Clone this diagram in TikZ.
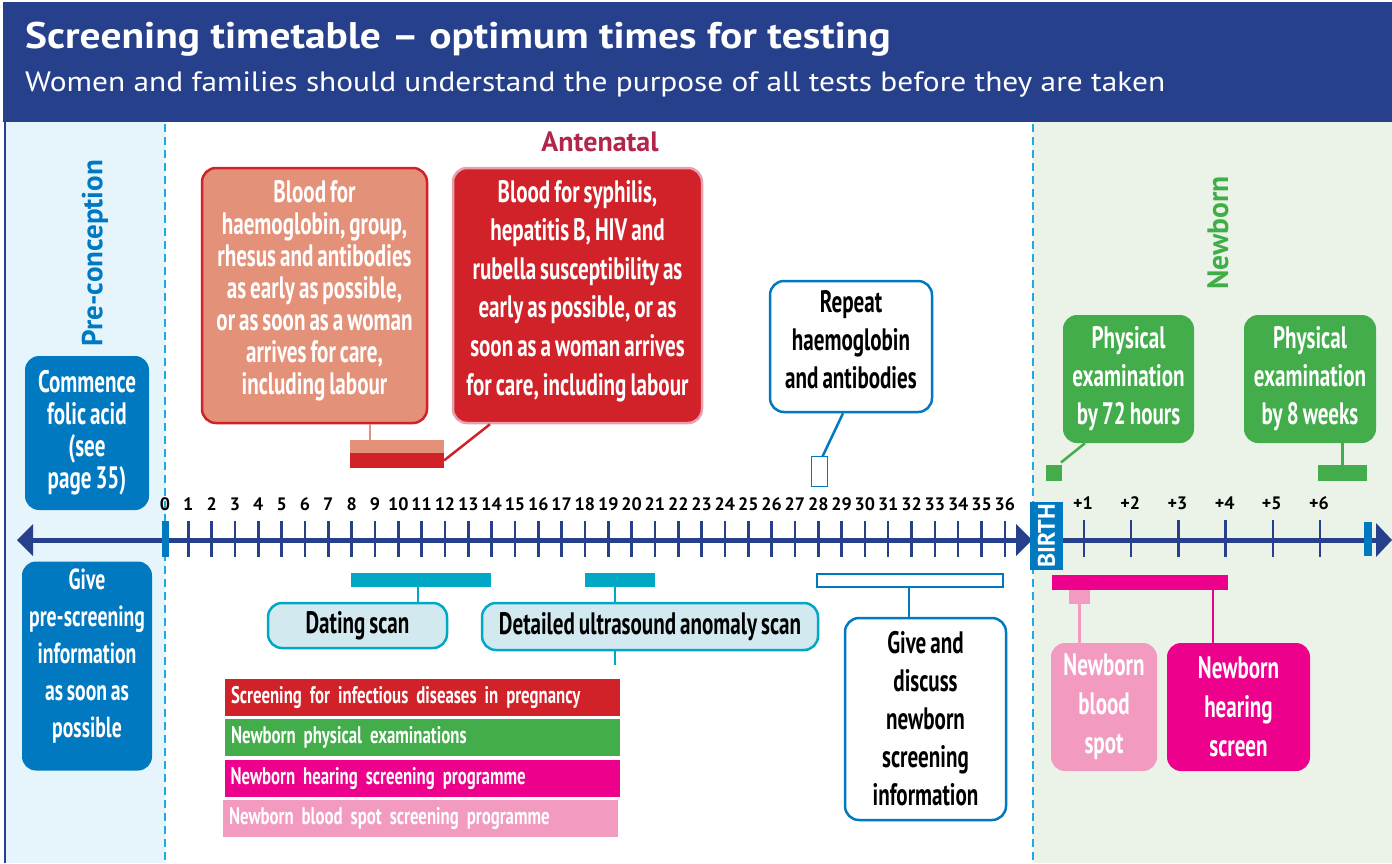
\documentclass[tikz,border=0pt]{standalone}
\usepackage{fontspec}
\setmainfont{PT Sans}
\newfontfamily\cond[FakeStretch=0.68, WordSpace=0.75]{PT Sans}
\newfontfamily\condl[FakeStretch=0.70, WordSpace=0.6]{PT Sans}
\newfontfamily\wide[FakeStretch=1.12]{PT Sans}
\definecolor{hdr}{HTML}{27408B}
\definecolor{preblue}{HTML}{0079C1}
\definecolor{prebg}{HTML}{E6F5FC}
\definecolor{nbbg}{HTML}{EBF3E8}
\definecolor{dashc}{HTML}{1DAAE2}
\definecolor{crim}{HTML}{B2264A}
\definecolor{salmon}{HTML}{E4917A}
\definecolor{bred}{HTML}{D12229}
\definecolor{pinkbd}{HTML}{E8A0AC}
\definecolor{bgreen}{HTML}{42AD4A}
\definecolor{teal}{HTML}{00A8C6}
\definecolor{lteal}{HTML}{D2E9F0}
\definecolor{magenta}{HTML}{EC008C}
\definecolor{bpink}{HTML}{F39AC1}
\definecolor{nbgreen}{HTML}{3FAE49}
\tikzset{
  wbox/.style={rounded corners=14pt, align=center, inner sep=0pt, text=white,
    font={\cond\bfseries\fontsize{31}{38}\selectfont}},
  obox/.style={rounded corners=14pt, align=center, inner sep=0pt, text=black, fill=white,
    draw=preblue, line width=2.5pt, font={\cond\bfseries\fontsize{31}{38}\selectfont}},
  bar/.style={inner sep=0pt, outer sep=0pt},
  conn/.style={line width=2.5pt},
  legend/.style={inner xsep=6pt, inner ysep=0pt, minimum height=37, text width=383, align=left,
    text=white, font={\condl\bfseries\fontsize{24}{26}\selectfont}},
  num/.style={font={\bfseries\fontsize{18}{20}\selectfont}, inner sep=0pt},
  tick/.style={draw=hdr, line width=2.5pt},
  axline/.style={draw=hdr, line width=5pt},
  dashline/.style={draw=dashc, line width=2.5pt, dash pattern=on 8pt off 5pt},
}
\begin{document}
\begin{tikzpicture}[x=1pt,y=-1pt]
\useasboundingbox (0,0) rectangle (1392,863);
\fill[white] (0,0) rectangle (1392,863);
% panels
\fill[prebg] (5,122) rectangle (165,863);
\fill[nbbg] (1033,122) rectangle (1392,863);
\fill[hdr] (3,2) rectangle (1392,122);
\draw[hdr, line width=2pt] (5,122) -- (5,863);
\draw[dashline] (165,124) -- (165,863);
\draw[dashline] (1033,124) -- (1033,863);
% header
\node[anchor=west, text=white, inner sep=0pt, font={\wide\bfseries\fontsize{37}{40}\selectfont}] (title) at (25,39) {Screening timetable – optimum times for testing};
\node[anchor=west, text=white, inner sep=0pt, font={\wide\fontsize{28}{30}\selectfont}] (subtitle) at (25,84) {Women and families should understand the purpose of all tests before they are taken};
% section labels
\node[text=crim, font={\bfseries\fontsize{28}{30}\selectfont}] (ante) at (600,142) {Antenatal};
\node[rotate=90, text=preblue, font={\bfseries\fontsize{29}{30}\selectfont}] (precon) at (95,253) {Pre-conception};
\node[rotate=90, text=nbgreen, font={\bfseries\fontsize{29.5}{30}\selectfont}] (newb) at (1218,233) {Newborn};
% axis
\draw[axline] (30,540) -- (1020,540);
\fill[hdr] (17,540) -- (33,524) -- (33,556) -- cycle;
\fill[hdr] (1032,540) -- (1016,524) -- (1016,556) -- cycle;
\draw[axline] (1060,540) -- (1380,540);
\fill[hdr] (1392,540) -- (1376,523) -- (1376,557) -- cycle;
\fill[preblue] (162,521) rectangle (169,557);
\fill[preblue] (1364,522) rectangle (1372,556);
\foreach \n in {1,...,36} \draw[tick] ({165+\n*23.33},521) -- ++(0,36);
\foreach \n in {0,...,36} \node[num] at ({165+\n*23.33},504) {\n};
\foreach \k in {1,...,6} {
  \draw[tick] ({1084+(\k-1)*47.2},520) -- ++(0,37);
  \node[num] at ({1083+(\k-1)*47.2},503) {+\k};
}
\node[rotate=90, fill=preblue, minimum width=68, minimum height=33, inner sep=0pt, text=white,
  font={\bfseries\fontsize{24}{24}\selectfont}] (birth) at (1046.5,536) {BIRTH};
% pre-conception boxes
\node[wbox, fill=preblue, minimum width=124, minimum height=154, font={\cond\bfseries\fontsize{31}{32}\selectfont}] (folic) at (87,433) {Commence\\folic acid\\(see\\page 35)};
\node[wbox, fill=preblue, minimum width=130, minimum height=209, text depth=25pt, font={\cond\bfseries\fontsize{29}{37}\selectfont}] (prescr) at (87,666) {Give\\pre-screening\\information\\as soon as\\possible};
% blood boxes
\node[wbox, fill=salmon, draw=bred, line width=2.5pt, minimum width=225, minimum height=255, text depth=16pt, font={\cond\bfseries\fontsize{31}{32}\selectfont}] (blood1) at (314.5,295.5) {Blood for\\haemoglobin, group,\\rhesus and antibodies\\as early as possible,\\or as soon as a woman\\arrives for care,\\including labour};
\node[wbox, fill=bred, draw=pinkbd, line width=2.5pt, minimum width=249, minimum height=255, text depth=16pt, font={\cond\bfseries\fontsize{31}{38.6}\selectfont}] (blood2) at (577.5,295.5) {Blood for syphilis,\\hepatitis B, HIV and\\rubella susceptibility as\\early as possible, or as\\soon as a woman arrives\\for care, including labour};
\node[bar, fill=salmon, minimum width=94, minimum height=13] (salbar) at (397,446.5) {};
\node[bar, fill=bred, minimum width=94, minimum height=15] (redbar) at (397,460.5) {};
\draw[conn, salmon] ([xshift=-27pt]salbar.north) -- ([xshift=-27pt]salbar.north |- blood1.south);
\draw[conn, bred] ([xshift=-87.5pt]blood2.south) -- (redbar.east);
% repeat
\node[obox, minimum width=162, minimum height=131, text depth=14pt] (repeat) at (851,346.5) {Repeat\\haemoglobin\\and antibodies};
\node[bar, draw=preblue, line width=1.5pt, fill=white, minimum width=16, minimum height=30] (hbrect) at (819.5,471.5) {};
\draw[conn, preblue] ([xshift=-8pt]repeat.south) -- ([xshift=3pt]hbrect.north);
% newborn physical
\node[wbox, fill=bgreen, minimum width=131, minimum height=128] (phys72) at (1128.5,379) {Physical\\examination\\by 72 hours};
\node[wbox, fill=bgreen, minimum width=132, minimum height=128] (phys8) at (1310,379) {Physical\\examination\\by 8 weeks};
\node[bar, fill=bgreen, minimum width=16, minimum height=16] (gsq) at (1054,472.5) {};
\node[bar, fill=bgreen, minimum width=49, minimum height=16] (gbar) at (1342.5,472.5) {};
\draw[conn, bgreen] ([xshift=-43.5pt]phys72.south) -- ([xshift=-1pt,yshift=2pt]gsq.north east);
\draw[conn, bgreen] (gbar.north) -- (gbar.north |- phys8.south);
% scans
\node[bar, fill=teal, minimum width=140, minimum height=14] (datbar) at (421,580) {};
\node[bar, fill=teal, minimum width=70, minimum height=14] (anobar) at (620,580) {};
\node[rounded corners=14pt, draw=teal, fill=lteal, line width=2.5pt, minimum width=179, minimum height=45, inner sep=0pt,
  font={\cond\bfseries\fontsize{31}{32}\selectfont}] (dating) at (357.5,625.5) {Dating scan};
\node[rounded corners=14pt, draw=teal, fill=lteal, line width=2.5pt, minimum width=336, minimum height=47, inner sep=0pt,
  font={\cond\bfseries\fontsize{31}{32}\selectfont}] (anomaly) at (650,626.5) {Detailed ultrasound anomaly scan};
\draw[conn, teal] ([xshift=-3pt]datbar.south) -- ([xshift=-3pt]datbar.south |- dating.north);
\draw[conn, teal] ([xshift=-5pt]anobar.south) -- ([xshift=-5pt]anobar.south |- anomaly.north);
\coordinate (stub) at (615,665);
\draw[conn, teal] (anomaly.south -| stub) -- (stub);
% newborn info
\node[bar, draw=preblue, line width=1.5pt, fill=white, minimum width=186, minimum height=13] (nbbar) at (910,580.5) {};
\node[obox, minimum width=161, minimum height=202] (give) at (925.5,719) {Give and\\discuss\\newborn\\screening\\information};
\draw[conn, preblue] ([xshift=-1pt]nbbar.south) -- ([xshift=-1pt]nbbar.south |- give.north);
% newborn screens
\node[bar, fill=magenta, minimum width=176, minimum height=15] (mbar) at (1140,582.5) {};
\node[bar, fill=bpink, minimum width=21, minimum height=14] (psq) at (1079.5,597) {};
\node[wbox, fill=bpink, minimum width=106, minimum height=128, font={\cond\bfseries\fontsize{31}{39}\selectfont}] (bspot) at (1104,707) {Newborn\\blood\\spot};
\node[wbox, fill=magenta, minimum width=143, minimum height=128, font={\cond\bfseries\fontsize{31}{39}\selectfont}] (hear) at (1238.5,707) {Newborn\\hearing\\screen};
\draw[conn, bpink] (psq.south) -- (psq.south |- bspot.north);
\draw[conn, magenta] ([xshift=73pt]mbar.south) -- ([xshift=73pt]mbar.south |- hear.north);
% legend
\node[legend, fill=bred] (leg1) at (422.5,697.5) {\mbox{Screening for infectious diseases in pregnancy}};
\node[legend, fill=bgreen] (leg2) at (422.5,737.5) {\mbox{Newborn physical examinations}};
\node[legend, fill=magenta] (leg3) at (422,778.5) {\mbox{Newborn hearing screening programme}};
\node[legend, fill=bpink] (leg4) at (420.5,818.5) {\mbox{Newborn blood spot screening programme}};
\end{tikzpicture}
\end{document}
